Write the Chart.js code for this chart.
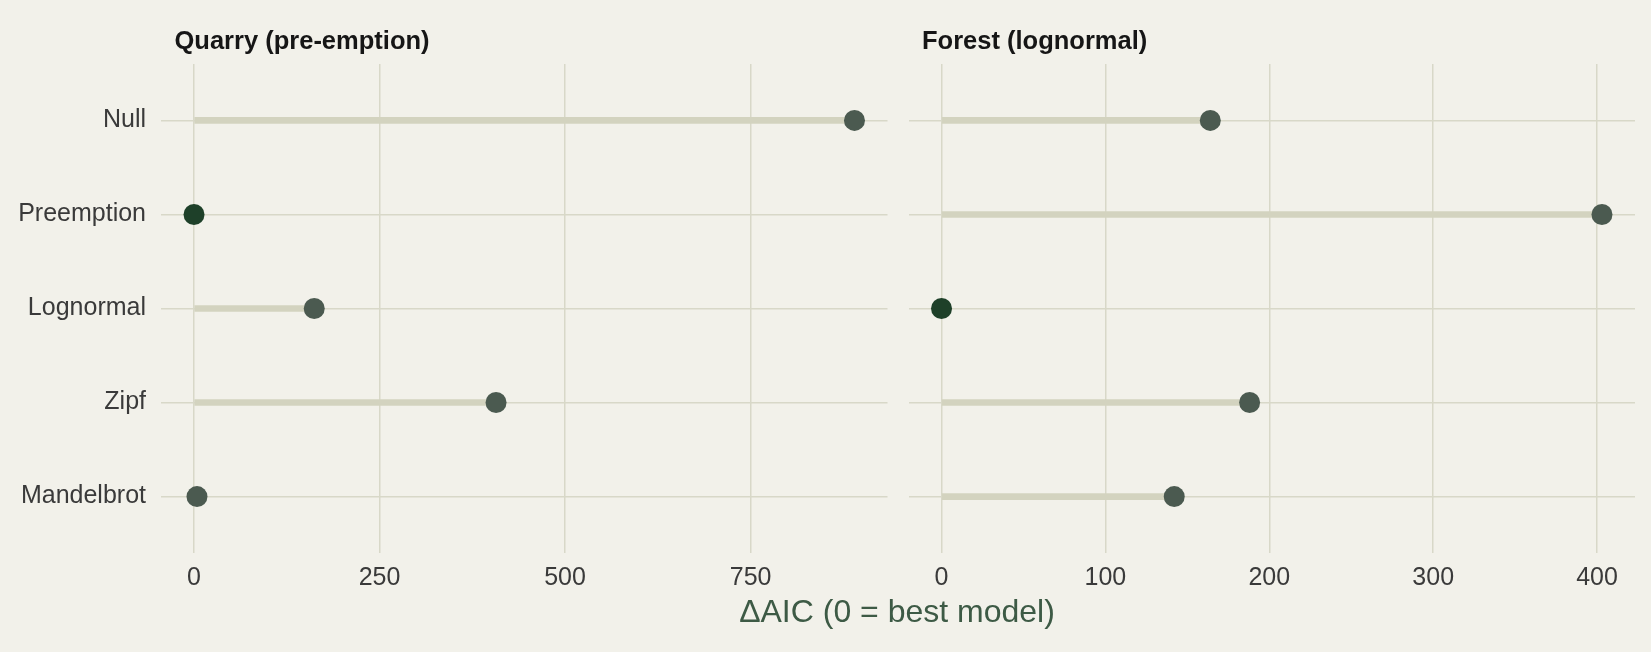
<!DOCTYPE html>
<html>
<head>
<meta charset="utf-8">
<script src="https://cdn.jsdelivr.net/npm/chart.js@4.4.1/dist/chart.umd.min.js"></script>
<style>
  html, body { margin: 0; padding: 0; background: #F2F1EA; }
  #wrap { position: relative; width: 1651px; height: 652px; background: #F2F1EA; overflow: hidden; }
  #c1 { position: absolute; left: 0; top: 0; }
  #c2 { position: absolute; left: 898px; top: 0; }
  #xtitle { position: absolute; left: 897px; top: 595px; transform: translateX(-50%);
            font: 32px "Liberation Sans", Arial, sans-serif; line-height: 32px; color: #3D5A45; white-space: nowrap; }
</style>
</head>
<body>
<div id="wrap">
  <canvas id="c1" width="898" height="652"></canvas>
  <canvas id="c2" width="753" height="652"></canvas>
  <div id="xtitle">ΔAIC (0 = best model)</div>
</div>
<script>
// ---- data ----
const models = ['Null', 'Preemption', 'Lognormal', 'Zipf', 'Mandelbrot'];
const quarryDeltaAIC = [890, 0, 162, 407, 4];
const forestDeltaAIC = [164, 403, 0, 188, 142];
const quarryTicks = [0, 250, 500, 750];
const forestTicks = [0, 100, 200, 300, 400];
const panelTitles = ['Quarry (pre-emption)', 'Forest (lognormal)'];

// ---- styles ----
const FONT = '"Liberation Sans", Arial, sans-serif';
const GRID = '#D8D8C8';
const SEG = '#D3D3BF';
const DOT = '#4B5A50';
const BEST = '#1E4029';

const titlePlugin = {
  id: 'panelTitle',
  afterDraw(chart, args, opts) {
    const ctx = chart.ctx;
    ctx.save();
    ctx.font = 'bold 25.5px ' + FONT;
    ctx.fillStyle = '#161616';
    ctx.textBaseline = 'alphabetic';
    ctx.textAlign = 'left';
    ctx.fillText(opts.text, chart.chartArea.left + 13.5, 49);
    ctx.restore();
  }
};

function makeChart(canvasId, values, ticks, title, showY, yWidth, padRight) {
  const maxV = Math.max(...values);
  const ctx = document.getElementById(canvasId);
  return new Chart(ctx, {
    type: 'bar',
    data: {
      datasets: [
        {
          type: 'scatter',
          data: values.map((v, i) => ({ x: v, y: i })),
          pointRadius: 10.5,
          pointHoverRadius: 10.5,
          pointBorderWidth: 0,
          pointBackgroundColor: values.map(v => v === 0 ? BEST : DOT),
          pointBorderColor: values.map(v => v === 0 ? BEST : DOT),
          order: 0
        },
        {
          type: 'bar',
          indexAxis: 'y',
          data: values.map((v, i) => ({ x: v, y: i })),
          backgroundColor: SEG,
          borderWidth: 0,
          barThickness: 6,
          order: 1
        }
      ]
    },
    options: {
      responsive: false,
      animation: false,
      devicePixelRatio: 1,
      layout: { padding: { top: 64, right: padRight, left: 0, bottom: 0 } },
      plugins: {
        legend: { display: false },
        tooltip: { enabled: false },
        panelTitle: { text: title }
      },
      scales: {
        x: {
          type: 'linear',
          position: 'bottom',
          offset: false,
          min: -0.05 * maxV,
          max: 1.05 * maxV,
          afterBuildTicks: s => { s.ticks = ticks.map(v => ({ value: v })); },
          afterFit: s => { s.height = 99; },
          grid: { color: GRID, lineWidth: 1.5, drawTicks: false, offset: false },
          border: { display: false },
          ticks: {
            padding: 10,
            color: '#3A3A3A',
            font: { family: FONT, size: 25 },
            maxRotation: 0,
            autoSkip: false,
            callback: v => String(v)
          }
        },
        y: {
          type: 'linear',
          position: 'left',
          offset: false,
          reverse: true,
          min: -0.6,
          max: 4.6,
          afterBuildTicks: s => { s.ticks = models.map((m, i) => ({ value: i })); },
          afterFit: s => { s.width = yWidth; },
          grid: { color: GRID, lineWidth: 1.5, drawTicks: false, offset: false },
          border: { display: false },
          ticks: {
            display: showY,
            padding: 15,
            color: '#3A3A3A',
            font: { family: FONT, size: 25 },
            autoSkip: false,
            callback: v => models[v]
          }
        }
      }
    },
    plugins: [titlePlugin]
  });
}

makeChart('c1', quarryDeltaAIC, quarryTicks, panelTitles[0], true, 161, 8);
makeChart('c2', forestDeltaAIC, forestTicks, panelTitles[1], false, 8, 16);
</script>
</body>
</html>
